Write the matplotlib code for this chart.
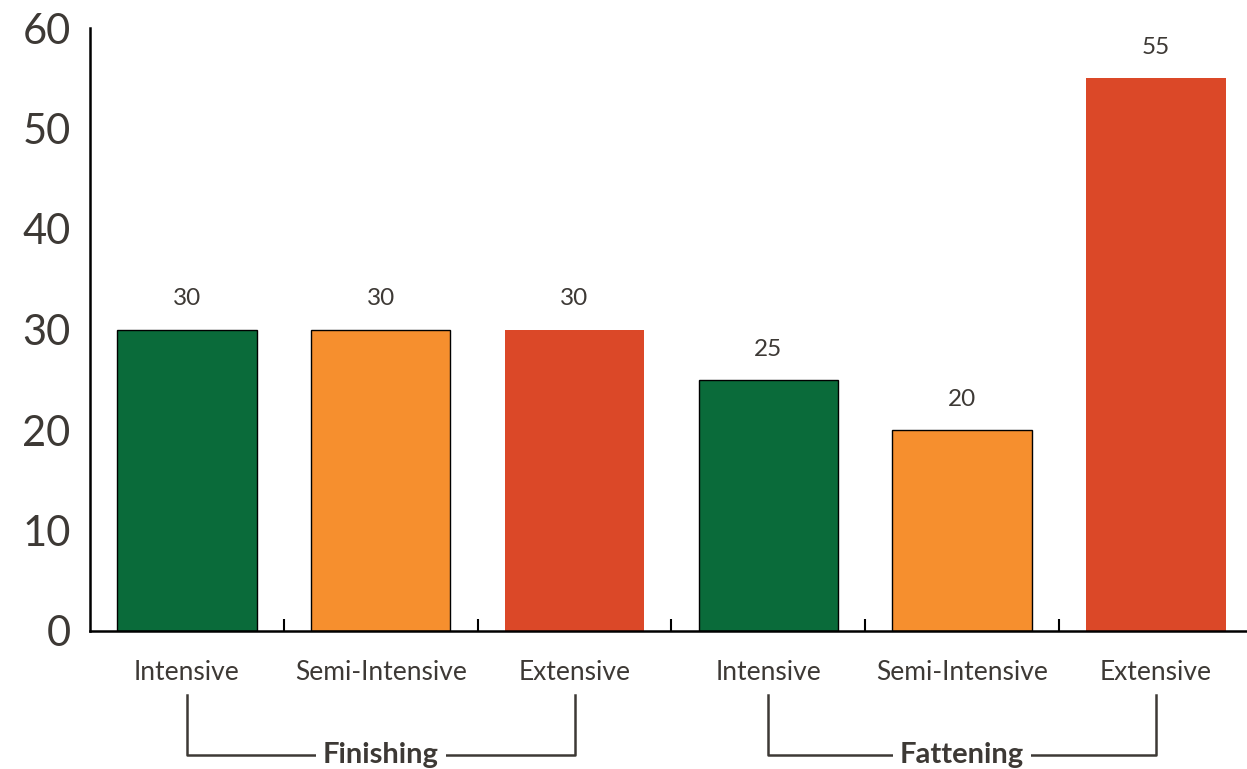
import numpy as np
import matplotlib.pyplot as plt
import matplotlib.transforms as mtransforms

plt.rcParams['font.family'] = ['Lato', 'DejaVu Sans']

# data
systems = ['Intensive', 'Semi-Intensive', 'Extensive',
           'Intensive', 'Semi-Intensive', 'Extensive']
values = [30, 30, 30, 25, 20, 55]
groups = ['Finishing', 'Fattening']
group_span = [(0, 2), (3, 5)]

green = '#0a6b3a'
orange = '#f68f2e'
red = '#db4828'
colors = [green, orange, red, green, orange, red]
edges = ['black', 'black', 'none', 'black', 'black', 'none']
txt = '#3d3935'

fig = plt.figure(figsize=(12.47, 7.69), dpi=100)
ax = fig.add_axes([90 / 1247, 138 / 769, 1 - 90 / 1247, 603 / 769])

x = np.arange(len(values))
bars = ax.bar(x, values, width=0.72, color=colors, edgecolor=edges,
              linewidth=1.0, zorder=2)

for xi, v in zip(x, values):
    ax.text(xi, v + 2.0, str(v), ha='center', va='bottom',
            fontsize=17.5, color=txt)

ax.set_xlim(-0.5, 5.47)
ax.set_ylim(0, 60)
ax.set_yticks(range(0, 61, 10))
ax.tick_params(axis='y', length=0, pad=14, labelsize=30, labelcolor=txt)

ax.set_xticks(x)
ax.set_xticklabels(systems)
ax.tick_params(axis='x', which='major', length=0, pad=21,
               labelsize=19, labelcolor=txt)
ax.set_xticks(x[:-1] + 0.5, minor=True)
ax.tick_params(axis='x', which='minor', direction='in', length=9,
               width=1.5, color='black')

for side in ['top', 'right']:
    ax.spines[side].set_visible(False)
ax.spines['left'].set_linewidth(1.8)
ax.spines['bottom'].set_linewidth(1.8)
ax.spines['bottom'].set_zorder(3)

# group brackets below the category labels
trans = mtransforms.blended_transform_factory(ax.transData, ax.transAxes)
y_top, y_bot = -0.106, -0.206
for name, (a, b) in zip(groups, group_span):
    ax.plot([a, a, b, b], [y_top, y_bot, y_bot, y_top], color=txt,
            linewidth=1.8, transform=trans, clip_on=False)
    ax.text((a + b) / 2, y_bot, name, transform=trans, ha='center',
            va='center', fontsize=21, fontweight='bold', color=txt,
            bbox=dict(facecolor='white', edgecolor='none', pad=5))

fig.savefig('out.png', dpi=100)
